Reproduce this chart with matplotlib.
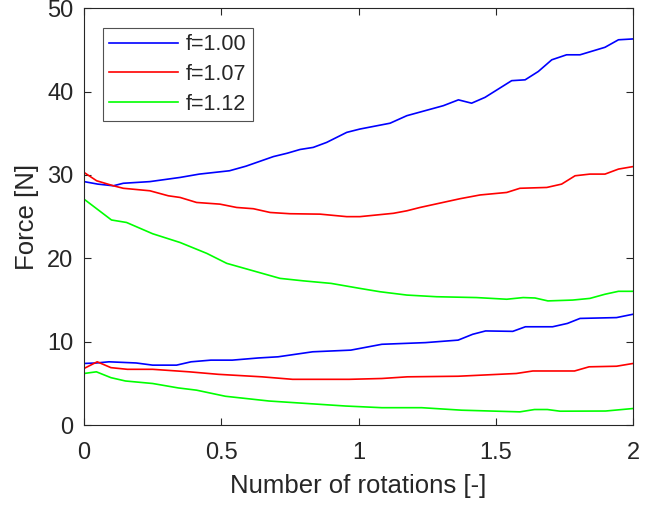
import matplotlib
matplotlib.use("Agg")
from matplotlib import pyplot as plt

# f = 1.00 / 1.07 / 1.12, upper and lower force curves
rot_blue_hi = [0, 0.05, 0.107, 0.143, 0.24, 0.35, 0.42, 0.53, 0.59, 0.69, 0.74, 0.787, 0.835,
               0.884, 0.957, 1.005, 1.115, 1.176, 1.309, 1.364, 1.412, 1.461, 1.558, 1.607,
               1.655, 1.704, 1.758, 1.807, 1.898, 1.947, 2.0]
force_blue_hi = [29.2, 28.9, 28.7, 29.0, 29.2, 29.7, 30.1, 30.5, 31.05, 32.2, 32.6, 33.05, 33.3,
                 33.9, 35.1, 35.5, 36.2, 37.1, 38.3, 39.0, 38.6, 39.3, 41.3, 41.4,
                 42.4, 43.8, 44.4, 44.4, 45.3, 46.2, 46.3]

rot_red_hi = [0, 0.046, 0.107, 0.143, 0.24, 0.307, 0.35, 0.41, 0.495, 0.556, 0.617, 0.678, 0.75,
              0.86, 0.957, 1.005, 1.127, 1.176, 1.224, 1.37, 1.443, 1.54, 1.588, 1.686, 1.74,
              1.789, 1.843, 1.898, 1.947, 2.0]
force_red_hi = [30.3, 29.3, 28.7, 28.4, 28.1, 27.5, 27.3, 26.7, 26.5, 26.1, 25.95, 25.5, 25.35,
                25.3, 25.0, 25.0, 25.4, 25.7, 26.1, 27.15, 27.6, 27.9, 28.4, 28.5, 28.9,
                29.9, 30.1, 30.1, 30.7, 31.0]

rot_green_hi = [0, 0.046, 0.1, 0.155, 0.25, 0.35, 0.447, 0.52, 0.617, 0.714, 0.8, 0.9, 1.005,
                1.078, 1.176, 1.285, 1.43, 1.54, 1.6, 1.643, 1.69, 1.78, 1.843, 1.898, 1.947, 2.0]
force_green_hi = [27.1, 25.95, 24.6, 24.3, 22.95, 21.9, 20.6, 19.4, 18.5, 17.6, 17.3, 17.0, 16.4,
                  16.0, 15.6, 15.4, 15.3, 15.1, 15.3, 15.25, 14.9, 15.0, 15.2, 15.7, 16.05, 16.05]

rot_blue_lo = [0, 0.045, 0.091, 0.19, 0.25, 0.337, 0.39, 0.462, 0.54, 0.635, 0.707, 0.833, 0.972,
               1.085, 1.244, 1.363, 1.416, 1.463, 1.562, 1.608, 1.707, 1.761, 1.807, 1.94, 2.0]
force_blue_lo = [7.4, 7.46, 7.6, 7.46, 7.2, 7.2, 7.6, 7.8, 7.8, 8.06, 8.2, 8.8, 9.0,
                 9.7, 9.9, 10.2, 10.9, 11.3, 11.25, 11.8, 11.8, 12.2, 12.8, 12.9, 13.3]

rot_red_lo = [0, 0.048, 0.098, 0.158, 0.25, 0.383, 0.489, 0.648, 0.76, 0.966, 1.085, 1.178,
              1.363, 1.575, 1.635, 1.787, 1.84, 1.94, 2.0]
force_red_lo = [6.8, 7.6, 6.9, 6.7, 6.7, 6.4, 6.1, 5.8, 5.5, 5.5, 5.6, 5.8,
                5.87, 6.2, 6.5, 6.5, 7.0, 7.07, 7.4]

rot_green_lo = [0, 0.045, 0.098, 0.151, 0.25, 0.343, 0.41, 0.515, 0.674, 0.953, 1.085, 1.23,
                1.376, 1.588, 1.641, 1.688, 1.734, 1.9, 2.0]
force_green_lo = [6.2, 6.4, 5.7, 5.3, 5.0, 4.47, 4.2, 3.47, 2.9, 2.3, 2.1, 2.1,
                  1.8, 1.6, 1.88, 1.88, 1.68, 1.7, 2.0]

labels = ["f=1.00", "f=1.07", "f=1.12"]
xticks = [0, 0.5, 1, 1.5, 2]
xticklabels = ["0", "0.5", "1", "1.5", "2"]
yticks = [0, 10, 20, 30, 40, 50]


def main():
    plt.rcParams['font.family'] = ['Liberation Sans', 'DejaVu Sans']
    txt = '#262626'
    fig = plt.figure(figsize=(6.58, 5.05), dpi=100)
    ax = fig.add_axes([0.1277, 0.158, 0.8343, 0.826])

    lw = 1.2
    ax.plot(rot_blue_hi, force_blue_hi, color=(0, 0, 1), lw=lw, label=labels[0])
    ax.plot(rot_red_hi, force_red_hi, color=(1, 0, 0), lw=lw, label=labels[1])
    ax.plot(rot_green_hi, force_green_hi, color=(0, 1, 0), lw=lw, label=labels[2])
    ax.plot(rot_blue_lo, force_blue_lo, color=(0, 0, 1), lw=lw)
    ax.plot(rot_red_lo, force_red_lo, color=(1, 0, 0), lw=lw)
    ax.plot(rot_green_lo, force_green_lo, color=(0, 1, 0), lw=lw)

    ax.set_xlim(0, 2)
    ax.set_ylim(0, 50)
    ax.set_xticks(xticks)
    ax.set_xticklabels(xticklabels)
    ax.set_yticks(yticks)
    ax.tick_params(direction='in', top=True, right=True, length=5, width=0.8,
                   colors=txt, labelsize=17)
    ax.tick_params(axis='x', pad=12)
    ax.tick_params(axis='y', pad=7.5)
    for s in ax.spines.values():
        s.set_color(txt)
        s.set_linewidth(0.8)

    ax.set_xlabel("Number of rotations [-]", fontsize=18.5, color=txt, labelpad=7.5)
    ax.set_ylabel("Force [N]", fontsize=18.5, color=txt, labelpad=6)

    leg = ax.legend(loc='upper left', bbox_to_anchor=(0.034, 0.953), borderaxespad=0,
                    fancybox=False, fontsize=15.5, handlelength=3.2, handletextpad=0.35,
                    borderpad=0.3, labelspacing=0.41)
    leg.get_frame().set_edgecolor(txt)
    leg.get_frame().set_linewidth(0.8)
    for t in leg.get_texts():
        t.set_color(txt)

    fig.savefig("out.png", dpi=100)


if __name__ == '__main__':
    main()
